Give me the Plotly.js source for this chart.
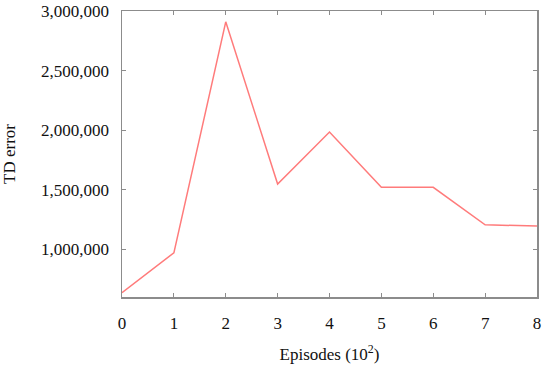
<!DOCTYPE html>
<html>
<head>
<meta charset="utf-8">
<script src="https://cdn.plot.ly/plotly-3.0.1.min.js"></script>
<style>
  html, body { margin: 0; padding: 0; background: #fff; }
  #chart { width: 550px; height: 375px; }
</style>
</head>
<body>
<div id="chart"></div>
<script>
// episodes (in hundreds) and TD error
var episodes = [0, 1, 2, 3, 4, 5, 6, 7, 8];
var tdError = [636000, 971000, 2909000, 1548000, 1984000, 1520000, 1520000, 1206000, 1195000];
var yTicks = [1000000, 1500000, 2000000, 2500000, 3000000];
var yTickText = ['1,000,000', '1,500,000', '2,000,000', '2,500,000', '3,000,000'];

var axisColor = '#8c8c8c';
var font = {family: 'Liberation Serif, serif', size: 17, color: '#111'};

var trace = {
  x: episodes,
  y: tdError,
  type: 'scatter',
  mode: 'lines',
  line: {color: '#ff7b7b', width: 1.5},
  hoverinfo: 'x+y'
};

var layout = {
  width: 550,
  height: 375,
  margin: {l: 122, r: 13, t: 11, b: 78},
  paper_bgcolor: '#fff',
  plot_bgcolor: '#fff',
  font: font,
  showlegend: false,
  xaxis: {
    range: [0, 8],
    tickvals: episodes,
    ticks: 'inside',
    ticklen: 4,
    tickcolor: axisColor,
    showgrid: false,
    zeroline: false,
    showline: true,
    linecolor: axisColor,
    linewidth: 1.5,
    mirror: 'ticks',
    ticklabelstandoff: 10,
    tickfont: font,
    title: {text: 'Episodes (10<sup>2</sup>)', font: font, standoff: 16}
  },
  yaxis: {
    range: [600000, 3000000],
    tickvals: yTicks,
    ticktext: yTickText,
    ticks: 'inside',
    ticklen: 4,
    tickcolor: axisColor,
    showgrid: false,
    zeroline: false,
    showline: true,
    linecolor: axisColor,
    linewidth: 1.5,
    mirror: 'ticks',
    ticklabelstandoff: 8,
    tickfont: font,
    title: {text: 'TD error', font: font, standoff: 22}
  }
};

Plotly.newPlot('chart', [trace], layout, {displayModeBar: false, staticPlot: true});
</script>
</body>
</html>
